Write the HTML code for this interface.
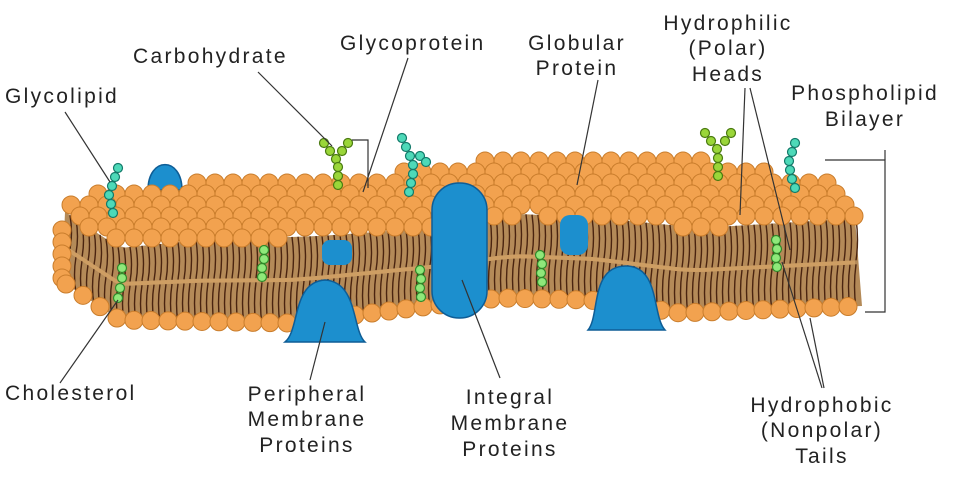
<!DOCTYPE html>
<html><head><meta charset="utf-8"><style>
body{margin:0;background:#fff;width:970px;height:493px;overflow:hidden}
svg{display:block}
text{font-family:"Liberation Sans",sans-serif;font-size:21px;fill:#222;letter-spacing:2.3px}
</style></head><body>
<svg id="s" width="970" height="493" viewBox="0 0 970 493" xmlns="http://www.w3.org/2000/svg">
<g id="mem"></g>
<g fill="none" stroke="#333" stroke-width="1.2">
<line x1="65" y1="112" x2="110" y2="182"/>
<line x1="258" y1="72" x2="332" y2="146"/>
<polyline points="352,140 368,140 368,188"/>
<line x1="408" y1="58" x2="363" y2="192"/>
<line x1="598" y1="80" x2="577" y2="185"/>
<line x1="745" y1="88" x2="740" y2="215"/>
<line x1="750" y1="88" x2="790" y2="250"/>
<polyline points="825,160 885,160 885,312 865,312"/>
<line x1="885" y1="160" x2="885" y2="150"/>
<line x1="60" y1="383" x2="118" y2="300"/>
<line x1="310" y1="380" x2="325" y2="322"/>
<line x1="500" y1="378" x2="462" y2="280"/>
<line x1="822" y1="388" x2="782" y2="262"/>
<line x1="824" y1="388" x2="810" y2="318"/>
</g>
<text x="5" y="103">Glycolipid</text>
<text x="133" y="63">Carbohydrate</text>
<text x="340" y="50">Glycoprotein</text>
<text x="577" y="50" text-anchor="middle">Globular</text>
<text x="577" y="75" text-anchor="middle">Protein</text>
<text x="728" y="30" text-anchor="middle">Hydrophilic</text>
<text x="728" y="55" text-anchor="middle">(Polar)</text>
<text x="728" y="81" text-anchor="middle">Heads</text>
<text x="865" y="100" text-anchor="middle">Phospholipid</text>
<text x="865" y="126" text-anchor="middle">Bilayer</text>
<text x="5" y="400">Cholesterol</text>
<text x="307" y="401" text-anchor="middle">Peripheral</text>
<text x="307" y="426" text-anchor="middle">Membrane</text>
<text x="307" y="452" text-anchor="middle">Proteins</text>
<text x="510" y="404" text-anchor="middle">Integral</text>
<text x="510" y="430" text-anchor="middle">Membrane</text>
<text x="510" y="456" text-anchor="middle">Proteins</text>
<text x="822" y="412" text-anchor="middle">Hydrophobic</text>
<text x="822" y="437" text-anchor="middle">(Nonpolar)</text>
<text x="822" y="463" text-anchor="middle">Tails</text>
</svg>
<script>
var NS="http://www.w3.org/2000/svg",g=document.getElementById("mem");
function el(t,a){var e=document.createElementNS(NS,t);for(var k in a)e.setAttribute(k,a[k]);g.appendChild(e);return e;}
function interp(p,x){if(x<=p[0][0])return p[0][1];for(var i=1;i<p.length;i++){if(x<=p[i][0]){var a=p[i-1],b=p[i];return a[1]+(b[1]-a[1])*(x-a[0])/(b[0]-a[0]);}}return p[p.length-1][1];}
var back=[[65,198],[200,183],[430,172],[520,157],[700,160],[830,185],[862,210]];
var ft=[[65,212],[120,248],[200,240],[320,236],[430,228],[520,214],[600,218],[700,228],[862,218]];
var fb=[[60,280],[120,320],[290,323],[430,306],[500,298],[590,300],[680,313],[862,306]];
var HF="#f2a24f",HS="#c97d2c",BL="#1c8fce",BS="#0e5d96";
var d="M65,212";for(var x=65;x<=862;x+=10)d+=" L"+x+","+interp(ft,x);
d+=" L862,306";for(var x=862;x>=60;x-=10)d+=" L"+x+","+interp(fb,x);d+=" Z";
el("path",{d:d,fill:"#b48a58",stroke:"none"});
for(var x=70;x<=858;x+=6){var t=interp(ft,x),b=interp(fb,x),m=(t+b)/2;
el("path",{d:"M"+x+","+t+" q3,"+((m-t)/2)+" 0,"+(m-t-2)+" M"+x+","+(m+2)+" q-3,"+((b-m)/2)+" 0,"+(b-m),stroke:"#4a2410","stroke-width":1.4,fill:"none"});}
var mid="M65,246";for(var x=65;x<=862;x+=10)mid+=" L"+x+","+((interp(ft,x)+interp(fb,x))/2);
el("path",{d:mid,stroke:"#d4a266","stroke-width":4,fill:"none",opacity:0.8});
function dome(x1,x2,yb,h){el("path",{d:"M"+x1+","+yb+" C"+x1+","+(yb-h*1.3)+" "+x2+","+(yb-h*1.3)+" "+x2+","+yb+" Z",fill:BL,stroke:BS,"stroke-width":1.5});}
dome(148,182,190,26);dome(470,506,192,26);dome(557,592,198,28);dome(322,356,212,30);dome(697,740,218,38);dome(250,290,216,20);
for(var y=150;y<=255;y+=11){var row=Math.round(y/11)%2;for(var x=62+row*9;x<=866;x+=18){var by=interp(back,x),fy=interp(ft,x);if(y>=by-2&&y<=fy+1)el("circle",{cx:x,cy:y,r:9,fill:HF,stroke:HS,"stroke-width":1});}}
for(var i=0;i<5;i++){el("circle",{cx:62,cy:230+i*12,r:9,fill:HF,stroke:HS,"stroke-width":1});}
for(var x=66;x<=862;x+=17){el("circle",{cx:x,cy:interp(fb,x),r:9,fill:HF,stroke:HS,"stroke-width":1});}
el("rect",{x:432,y:183,width:55,height:135,rx:27,fill:BL,stroke:BS,"stroke-width":1.5});
el("rect",{x:560,y:215,width:28,height:40,rx:10,fill:BL,stroke:"none"});
el("rect",{x:322,y:240,width:30,height:25,rx:8,fill:BL,stroke:"none"});
el("path",{d:"M285,342 C300,330 292,282 325,280 C358,282 352,330 365,342 Z",fill:BL,stroke:BS,"stroke-width":1.5});
el("path",{d:"M588,330 C600,316 590,266 626,266 C660,266 652,316 665,330 Z",fill:BL,stroke:BS,"stroke-width":1.5});
function chain(pts,f,s){pts.forEach(function(p){el("circle",{cx:p[0],cy:p[1],r:4.5,fill:f,stroke:s,"stroke-width":1.2});});}
chain([[118,168],[115,177],[112,186],[109,195],[111,204],[113,213]],"#4dd9b8","#137a6a");
chain([[402,138],[406,147],[410,156],[413,165],[413,174],[411,183],[409,192],[420,156],[426,162]],"#4dd9b8","#137a6a");
chain([[795,143],[792,152],[789,161],[790,170],[792,179],[795,188]],"#4dd9b8","#137a6a");
chain([[324,143],[330,151],[336,159],[348,143],[342,151],[338,167],[338,176],[338,185]],"#9ad639","#4a7a10");
chain([[705,133],[711,141],[717,149],[731,133],[725,141],[718,158],[718,167],[718,176]],"#9ad639","#4a7a10");
chain([[122,268],[122,278],[120,288],[118,298]],"#8fe87a","#2f8a2a");
chain([[264,250],[264,259],[262,268],[262,277]],"#8fe87a","#2f8a2a");
chain([[420,270],[421,279],[420,288],[421,297]],"#8fe87a","#2f8a2a");
chain([[540,255],[542,264],[541,273],[542,282]],"#8fe87a","#2f8a2a");
chain([[776,240],[777,249],[776,258],[777,267]],"#8fe87a","#2f8a2a");
</script>
</body></html>
